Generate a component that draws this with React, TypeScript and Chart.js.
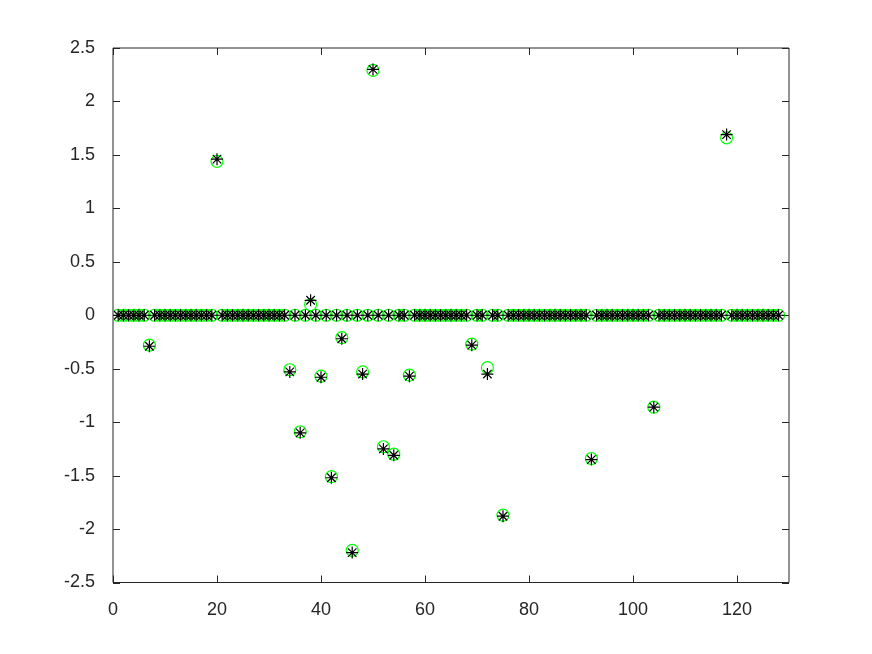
import React, { useEffect, useRef } from "react";
import { Chart, registerables } from "chart.js";

Chart.register(...registerables);

// Signal length (indices 1..N)
const N = 128;
// Indices of the nonzero entries (support)
const supportIdx = [7, 20, 34, 36, 38, 40, 42, 44, 46, 48, 50, 52, 54, 57, 69, 72, 75, 92, 104, 118];
// Original sparse signal values (green circles) at the support
const originalVals = [-0.28, 1.44, -0.51, -1.09, 0.1, -0.57, -1.51, -0.21, -2.2, -0.53, 2.29, -1.23, -1.3, -0.56, -0.27, -0.49, -1.87, -1.34, -0.86, 1.66];
// Recovered signal values (black asterisks) at the support
const recoveredVals = [-0.29, 1.46, -0.53, -1.1, 0.14, -0.58, -1.52, -0.22, -2.22, -0.55, 2.3, -1.25, -1.31, -0.57, -0.28, -0.55, -1.88, -1.35, -0.86, 1.69];

const xTicks = [0, 20, 40, 60, 80, 100, 120];
const yTicks = [-2.5, -2, -1.5, -1, -0.5, 0, 0.5, 1, 1.5, 2, 2.5];

function buildSeries(vals: number[]) {
  const pts: { x: number; y: number }[] = [];
  for (let i = 1; i <= N; i++) {
    const k = supportIdx.indexOf(i);
    pts.push({ x: i, y: k >= 0 ? vals[k] : 0 });
  }
  return pts;
}

const AXIS_COLOR = "#262626";
const FONT_FAMILY = "'Liberation Sans', Arial, Helvetica, sans-serif";

const matlabAxes = {
  id: "matlabAxes",
  beforeDatasetsDraw(chart: any) {
    const { ctx, chartArea } = chart;
    const { left, right, top, bottom } = chartArea;
    const xs = chart.scales.x;
    const ys = chart.scales.y;
    const tl = 7;
    ctx.save();
    ctx.strokeStyle = AXIS_COLOR;
    ctx.lineWidth = 1;
    ctx.beginPath();
    ctx.rect(left, top, right - left, bottom - top);
    for (const v of xTicks) {
      const px = Math.round(xs.getPixelForValue(v)) + 0.5;
      ctx.moveTo(px, bottom);
      ctx.lineTo(px, bottom - tl);
      ctx.moveTo(px, top);
      ctx.lineTo(px, top + tl);
    }
    for (const v of yTicks) {
      const py = Math.round(ys.getPixelForValue(v)) + 0.5;
      ctx.moveTo(left, py);
      ctx.lineTo(left + tl, py);
      ctx.moveTo(right, py);
      ctx.lineTo(right - tl, py);
    }
    ctx.stroke();
    ctx.restore();
  },
};

export default function App() {
  const canvasRef = useRef<HTMLCanvasElement | null>(null);

  useEffect(() => {
    const canvas = canvasRef.current;
    if (!canvas) return;
    const chart = new Chart(canvas, {
      type: "scatter",
      data: {
        datasets: [
          {
            label: "original",
            data: buildSeries(originalVals),
            pointStyle: "circle",
            pointRadius: 6,
            pointBorderWidth: 1.2,
            pointBorderColor: "#00ff00",
            pointBackgroundColor: "rgba(0,0,0,0)",
            showLine: false,
            order: 2,
          },
          {
            label: "recovered",
            data: buildSeries(recoveredVals),
            pointStyle: "star",
            pointRadius: 6,
            pointBorderWidth: 1.2,
            pointBorderColor: "#000000",
            pointBackgroundColor: "#000000",
            showLine: false,
            order: 1,
          },
        ],
      },
      options: {
        responsive: false,
        animation: false,
        events: [],
        layout: { padding: { left: 0, right: 83, top: 48, bottom: 0 } },
        plugins: {
          legend: { display: false },
          tooltip: { enabled: false },
        },
        scales: {
          x: {
            type: "linear",
            min: 0,
            max: 130,
            grid: { display: false },
            border: { display: false },
            afterBuildTicks: (s: any) => {
              s.ticks = xTicks.map((v) => ({ value: v }));
            },
            afterFit: (s: any) => {
              s.height = 71.5;
            },
            ticks: {
              autoSkip: false,
              maxRotation: 0,
              padding: 9,
              color: AXIS_COLOR,
              font: { family: FONT_FAMILY, size: 18 },
              callback: (v: any) => String(v),
            },
          },
          y: {
            type: "linear",
            min: -2.5,
            max: 2.5,
            grid: { display: false },
            border: { display: false },
            afterBuildTicks: (s: any) => {
              s.ticks = yTicks.map((v) => ({ value: v }));
            },
            afterFit: (s: any) => {
              s.width = 113;
            },
            ticks: {
              autoSkip: false,
              padding: 10,
              color: AXIS_COLOR,
              font: { family: FONT_FAMILY, size: 18 },
              callback: (v: any) => String(v),
            },
          },
        },
      },
      plugins: [matlabAxes],
    });
    return () => chart.destroy();
  }, []);

  return (
    <div style={{ position: "absolute", left: 0, top: 0, width: 872, height: 654, background: "#ffffff" }}>
      <canvas ref={canvasRef} width={872} height={654} style={{ display: "block" }} />
    </div>
  );
}
